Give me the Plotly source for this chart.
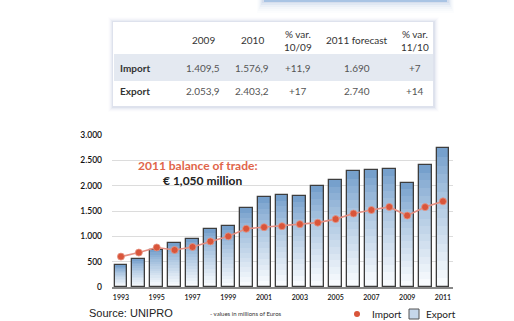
import plotly.graph_objects as go

# ---------------- data ----------------
years = list(range(1993, 2012))
export_vals = [430, 550, 730, 860, 940, 1140, 1200, 1550, 1770, 1820,
               1800, 1990, 2110, 2280, 2300, 2330, 2053.9, 2403.2, 2740]
import_vals = [600, 680, 780, 730, 790, 900, 1000, 1150, 1180, 1200,
               1240, 1270, 1340, 1450, 1520, 1580, 1409.5, 1576.9, 1690]
y_tickvals = [0, 500, 1000, 1500, 2000, 2500, 3000]
y_ticktext = ["0", "500", "1.000", "1.500", "2.000", "2.500", "3.000"]
x_tickvals = list(range(1993, 2012, 2))

table_header = ["2009", "2010", "% var.<br>10/09", "2011 forecast", "% var.<br>11/10"]
table_rows = ["Import", "Export"]
table_import = ["1.409,5", "1.576,9", "+11,9", "1.690", "+7"]
table_export = ["2.053,9", "2.403,2", "+17", "2.740", "+14"]

# ---------------- geometry helpers ----------------
W, H = 514, 321
L, R, T, B = 112, 453, 135, 287


def px(x):
    return (x - L) / (R - L)


def py(y):
    return (B - y) / (B - T)


def lerp_color(c1, c2, t):
    return "rgb(%d,%d,%d)" % tuple(round(a + (b - a) * t) for a, b in zip(c1, c2))


fig = go.Figure()

# gradient bars (layered, each layer a fraction of the bar height)
N = 16
top_c = (118, 160, 204)
bot_c = (248, 251, 254)
for k in range(N):
    f = 1 - k / N
    t = (k / (N - 1)) ** 0.85
    fig.add_trace(go.Bar(
        x=years, y=[v * f for v in export_vals], width=0.72,
        marker=dict(color=lerp_color(top_c, bot_c, t), line=dict(width=0)),
        showlegend=False, hoverinfo="skip"))
# outline
fig.add_trace(go.Bar(
    x=years, y=export_vals, width=0.72, name="Export",
    marker=dict(color="rgba(0,0,0,0)", line=dict(color="#3d3d3d", width=1.3)),
    showlegend=False))

# import line
fig.add_trace(go.Scatter(
    x=years, y=import_vals, mode="lines+markers", name="Import",
    line=dict(color="#e48e82", width=1.6),
    marker=dict(color="#d9553a", size=7, line=dict(color="#e69585", width=0.8)),
    showlegend=False))

shapes = []
annotations = []

# top blue box with shadow
for i, op in enumerate([0.10, 0.08, 0.06, 0.04, 0.03, 0.02]):
    shapes.append(dict(type="rect", xref="paper", yref="paper",
                       x0=px(262 - i), x1=px(449 + i), y0=py(3 + 2 * i), y1=py(-5),
                       fillcolor="rgba(120,150,200,%f)" % op, line=dict(width=0), layer="below"))
shapes.append(dict(type="rect", xref="paper", yref="paper",
                   x0=px(264), x1=px(447), y0=py(2), y1=py(-5),
                   fillcolor="#a9c4e4", line=dict(width=0), layer="below"))

# table card with soft shadow
for i, op in enumerate([0.10, 0.07, 0.05, 0.035, 0.02]):
    e = i + 1
    shapes.append(dict(type="rect", xref="paper", yref="paper",
                       x0=px(113 - e), x1=px(433 + e + 1), y0=py(106 + e + 1), y1=py(22 - e),
                       fillcolor="rgba(130,150,190,%f)" % op, line=dict(width=0), layer="below"))
shapes.append(dict(type="rect", xref="paper", yref="paper",
                   x0=px(113), x1=px(433), y0=py(106), y1=py(22),
                   fillcolor="white", line=dict(width=0), layer="below"))
shapes.append(dict(type="rect", xref="paper", yref="paper",
                   x0=px(114), x1=px(433), y0=py(81), y1=py(54),
                   fillcolor="#e4e9f1", line=dict(width=0), layer="below"))

col_x = [203, 252, 298, 357, 415]
tfont = "Lato"
for cx, h in zip(col_x, table_header):
    annotations.append(dict(x=px(cx), y=py(40), xref="paper", yref="paper", text=h,
                            showarrow=False, font=dict(family=tfont, size=10, color="#333"),
                            xanchor="center", yanchor="middle"))
for ry, label, vals in [(68, table_rows[0], table_import), (91, table_rows[1], table_export)]:
    annotations.append(dict(x=px(118), y=py(ry), xref="paper", yref="paper",
                            text="<b>%s</b>" % label, showarrow=False,
                            font=dict(family=tfont, size=10, color="#333"),
                            xanchor="left", yanchor="middle"))
    for cx, v in zip(col_x, vals):
        annotations.append(dict(x=px(cx), y=py(ry), xref="paper", yref="paper", text=v,
                                showarrow=False, font=dict(family=tfont, size=10, color="#555"),
                                xanchor="center", yanchor="middle"))

# chart title
annotations.append(dict(x=px(198), y=py(165.5), xref="paper", yref="paper",
                        text="<b>2011 balance of trade:</b>", showarrow=False,
                        font=dict(family=tfont, size=12, color="#e0654a"),
                        xanchor="center", yanchor="middle"))
annotations.append(dict(x=px(202), y=py(180.5), xref="paper", yref="paper",
                        text="<b>€ 1,050 million</b>", showarrow=False,
                        font=dict(family=tfont, size=12, color="#222"),
                        xanchor="center", yanchor="middle"))

# footer
annotations.append(dict(x=px(87), y=py(313), xref="paper", yref="paper",
                        text="Source: UNIPRO", showarrow=False,
                        font=dict(family="Liberation Sans", size=11, color="#222"),
                        xanchor="left", yanchor="middle"))
annotations.append(dict(x=px(208), y=py(313), xref="paper", yref="paper",
                        text="- values in millions of Euros", showarrow=False,
                        font=dict(family=tfont, size=6, color="#333"),
                        xanchor="left", yanchor="middle"))

# legend (manual)
shapes.append(dict(type="circle", xref="paper", yref="paper",
                   x0=px(354), x1=px(360), y0=py(317), y1=py(311),
                   fillcolor="#d9553a", line=dict(width=0)))
annotations.append(dict(x=px(370), y=py(314), xref="paper", yref="paper",
                        text="Import", showarrow=False,
                        font=dict(family=tfont, size=10, color="#222"),
                        xanchor="left", yanchor="middle"))
shapes.append(dict(type="rect", xref="paper", yref="paper",
                   x0=px(409), x1=px(419), y0=py(319), y1=py(309),
                   fillcolor="#c6d7ea", line=dict(color="#555", width=1)))
annotations.append(dict(x=px(424), y=py(314), xref="paper", yref="paper",
                        text="Export", showarrow=False,
                        font=dict(family=tfont, size=10, color="#222"),
                        xanchor="left", yanchor="middle"))

fig.update_layout(
    width=W, height=H, autosize=False,
    margin=dict(l=L, r=W - R, t=T, b=H - B, pad=0),
    paper_bgcolor="white", plot_bgcolor="white",
    barmode="overlay", bargap=0,
    shapes=shapes, annotations=annotations,
    showlegend=False,
    xaxis=dict(range=[1992.5, 2011.56], tickvals=x_tickvals,
               tickfont=dict(family=tfont, size=7, color="#111", weight=600),
               showgrid=False, showline=True, linecolor="#888", linewidth=1.5,
               ticks="", ticklabelstandoff=3, zeroline=False, fixedrange=True),
    yaxis=dict(range=[0, 3000], tickvals=y_tickvals, ticktext=y_ticktext,
               tickfont=dict(family=tfont, size=8.5, color="#111", weight=600),
               showgrid=True, gridcolor="#dcdcdc", gridwidth=1,
               zeroline=False, showline=False, ticks="", ticklabelstandoff=9,
               fixedrange=True),
)

fig.write_html("out.html", config={"displayModeBar": False})
